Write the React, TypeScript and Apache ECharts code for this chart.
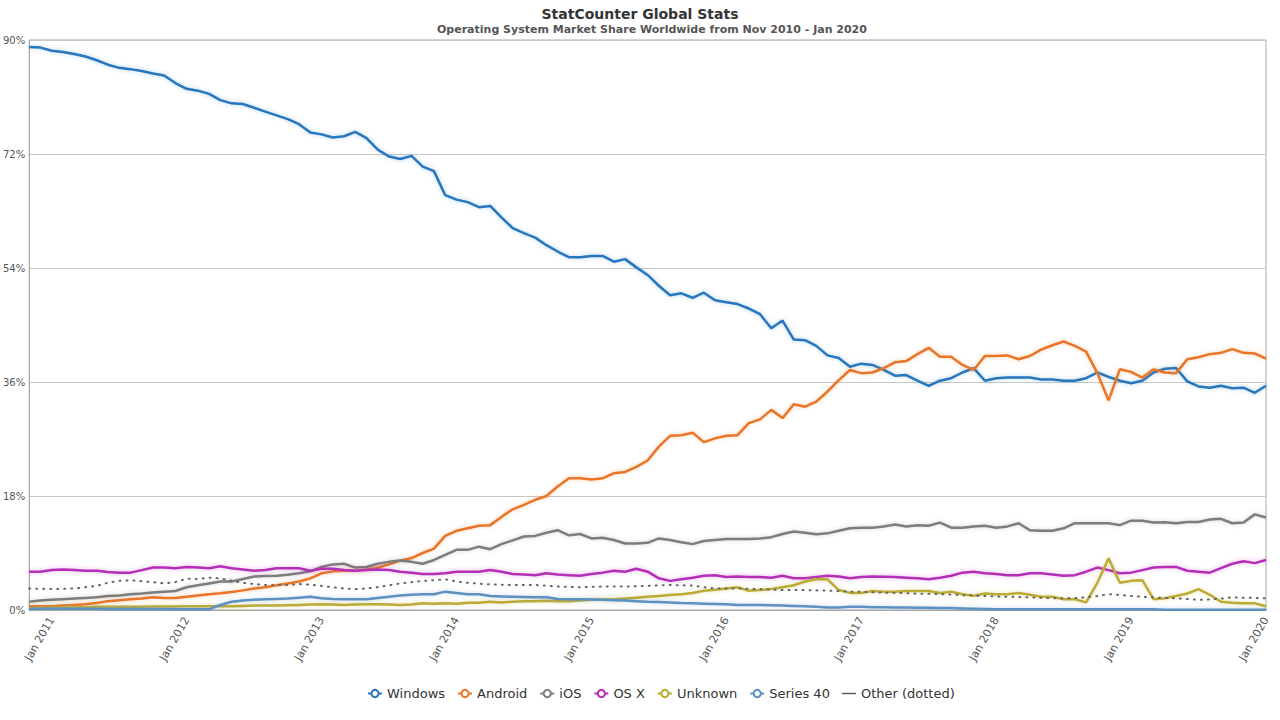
import React, { useEffect, useRef } from "react";
import * as echarts from "echarts";

const monthNames = ["Jan", "Feb", "Mar", "Apr", "May", "Jun", "Jul", "Aug", "Sep", "Oct", "Nov", "Dec"];
const startYear = 2010;
const startMonth = 10; // Nov
const monthCount = 111; // Nov 2010 .. Jan 2020

const categories: string[] = [];
for (let i = 0; i < monthCount; i++) {
  const m = (startMonth + i) % 12;
  const y = startYear + Math.floor((startMonth + i) / 12);
  categories.push(monthNames[m] + " " + y);
}

const yTicks = [0, 18, 36, 54, 72, 90];

const windows = [
  88.9, 88.8, 88.3, 88.1, 87.8, 87.4, 86.8, 86.1, 85.6, 85.4,
  85.1, 84.7, 84.4, 83.2, 82.3, 82.0, 81.5, 80.5, 80.0, 79.9,
  79.3, 78.7, 78.1, 77.5, 76.7, 75.4, 75.1, 74.6, 74.8, 75.5,
  74.5, 72.7, 71.6, 71.2, 71.7, 70.0, 69.3, 65.5, 64.8, 64.4,
  63.6, 63.8, 62.0, 60.3, 59.5, 58.8, 57.6, 56.6, 55.7, 55.7,
  55.9, 55.9, 55.0, 55.4, 54.1, 52.9, 51.2, 49.7, 50.0, 49.3,
  50.1, 48.9, 48.6, 48.3, 47.6, 46.7, 44.5, 45.7, 42.7, 42.6,
  41.7, 40.2, 39.8, 38.4, 38.9, 38.7, 37.9, 37.0, 37.1, 36.2,
  35.4, 36.2, 36.6, 37.5, 38.2, 36.2, 36.6, 36.7, 36.7, 36.7,
  36.4, 36.4, 36.2, 36.2, 36.6, 37.5, 36.8, 36.2, 35.8, 36.2,
  37.5, 38.1, 38.2, 36.1, 35.3, 35.1, 35.4, 35.0, 35.1, 34.3,
  35.4,
];

const android = [
  0.6, 0.6, 0.6, 0.7, 0.8, 0.9, 1.1, 1.4, 1.55, 1.7,
  1.8, 2.0, 1.9, 1.9, 2.1, 2.3, 2.5, 2.65, 2.85, 3.1,
  3.4, 3.6, 3.9, 4.2, 4.5, 5.0, 5.8, 6.1, 6.2, 6.2,
  6.4, 6.7, 7.2, 7.8, 8.2, 9.0, 9.7, 11.7, 12.5, 12.9,
  13.3, 13.4, 14.7, 15.9, 16.6, 17.4, 18.0, 19.5, 20.8, 20.8,
  20.6, 20.8, 21.6, 21.8, 22.6, 23.6, 25.8, 27.5, 27.6, 28.0,
  26.5, 27.1, 27.5, 27.6, 29.5, 30.1, 31.6, 30.3, 32.5, 32.1,
  32.9, 34.5, 36.3, 37.9, 37.4, 37.5, 38.2, 39.1, 39.3, 40.4,
  41.4, 40.0, 40.0, 38.7, 37.9, 40.1, 40.1, 40.2, 39.6, 40.1,
  41.1, 41.8, 42.4, 41.7, 40.8, 37.4, 33.1, 38.0, 37.6, 36.7,
  38.0, 37.5, 37.4, 39.6, 39.9, 40.4, 40.6, 41.2, 40.6, 40.5,
  39.7,
];

const ios = [
  1.3, 1.5, 1.6, 1.7, 1.8, 1.9, 2.0, 2.2, 2.3, 2.5,
  2.6, 2.75, 2.9, 3.0, 3.6, 3.9, 4.2, 4.5, 4.5, 4.9,
  5.3, 5.35, 5.4, 5.55, 5.8, 6.1, 6.8, 7.2, 7.3, 6.7,
  6.8, 7.3, 7.6, 7.8, 7.6, 7.3, 7.9, 8.7, 9.5, 9.5,
  10.0, 9.6, 10.4, 11.0, 11.6, 11.7, 12.2, 12.6, 11.8, 12.0,
  11.3, 11.4, 11.05, 10.5, 10.5, 10.6, 11.3, 11.05, 10.7, 10.4,
  10.9, 11.05, 11.2, 11.2, 11.2, 11.3, 11.5, 12.0, 12.4, 12.2,
  11.95, 12.1, 12.5, 12.9, 13.0, 13.0, 13.2, 13.5, 13.2, 13.4,
  13.3, 13.8, 13.0, 13.0, 13.2, 13.3, 13.0, 13.2, 13.7, 12.6,
  12.5, 12.5, 12.9, 13.7, 13.7, 13.7, 13.7, 13.4, 14.1, 14.1,
  13.8, 13.85, 13.7, 13.9, 13.9, 14.3, 14.4, 13.7, 13.8, 15.1,
  14.6,
];

const osx = [
  6.05, 6.05, 6.3, 6.4, 6.3, 6.2, 6.2, 6.0, 5.9, 5.9,
  6.3, 6.7, 6.7, 6.6, 6.8, 6.7, 6.6, 6.9, 6.6, 6.4,
  6.2, 6.3, 6.6, 6.6, 6.6, 6.2, 6.5, 6.5, 6.3, 6.2,
  6.3, 6.4, 6.3, 6.05, 5.9, 5.7, 5.7, 5.8, 6.05, 6.05,
  6.05, 6.3, 6.05, 5.7, 5.6, 5.5, 5.8, 5.6, 5.5, 5.4,
  5.7, 5.9, 6.2, 6.05, 6.5, 6.05, 5.0, 4.6, 4.85, 5.1,
  5.4, 5.5, 5.2, 5.3, 5.2, 5.2, 5.1, 5.4, 5.0, 5.0,
  5.2, 5.4, 5.3, 5.0, 5.2, 5.3, 5.25, 5.2, 5.1, 5.0,
  4.85, 5.1, 5.4, 5.9, 6.05, 5.8, 5.7, 5.5, 5.5, 5.8,
  5.8, 5.6, 5.4, 5.5, 6.05, 6.7, 6.3, 5.8, 5.9, 6.3,
  6.7, 6.8, 6.8, 6.2, 6.05, 5.9, 6.6, 7.3, 7.7, 7.4,
  7.9,
];

const unknown = [
  0.3, 0.3, 0.35, 0.4, 0.4, 0.45, 0.5, 0.5, 0.5, 0.5,
  0.5, 0.55, 0.55, 0.55, 0.6, 0.6, 0.6, 0.6, 0.6, 0.65,
  0.7, 0.7, 0.7, 0.75, 0.8, 0.85, 0.9, 0.85, 0.8, 0.85,
  0.9, 0.9, 0.85, 0.8, 0.85, 1.05, 1.0, 1.05, 1.0, 1.15,
  1.15, 1.3, 1.2, 1.3, 1.4, 1.4, 1.45, 1.4, 1.4, 1.5,
  1.6, 1.65, 1.7, 1.8, 1.95, 2.1, 2.2, 2.35, 2.5, 2.7,
  3.05, 3.2, 3.4, 3.6, 3.05, 3.15, 3.3, 3.6, 3.9, 4.5,
  4.85, 4.85, 3.15, 2.7, 2.7, 3.0, 2.9, 2.9, 3.0, 3.0,
  3.0, 2.7, 2.9, 2.5, 2.25, 2.6, 2.5, 2.5, 2.7, 2.4,
  2.1, 2.1, 1.7, 1.7, 1.2, 4.3, 8.15, 4.3, 4.6, 4.7,
  1.7, 1.85, 2.2, 2.6, 3.3, 2.4, 1.3, 1.15, 1.05, 1.05,
  0.6,
];

const series40 = [
  0.2, 0.2, 0.2, 0.2, 0.2, 0.2, 0.2, 0.15, 0.15, 0.15,
  0.15, 0.15, 0.15, 0.1, 0.1, 0.1, 0.1, 0.8, 1.3, 1.5,
  1.6, 1.7, 1.75, 1.8, 1.95, 2.1, 1.85, 1.75, 1.7, 1.7,
  1.7, 1.9, 2.1, 2.3, 2.4, 2.5, 2.5, 2.9, 2.7, 2.5,
  2.5, 2.2, 2.15, 2.1, 2.05, 2.0, 2.0, 1.75, 1.7, 1.7,
  1.65, 1.6, 1.55, 1.5, 1.4, 1.3, 1.25, 1.2, 1.1, 1.05,
  1.0, 0.95, 0.9, 0.8, 0.8, 0.8, 0.75, 0.7, 0.65, 0.6,
  0.5, 0.4, 0.4, 0.5, 0.5, 0.45, 0.45, 0.4, 0.4, 0.35,
  0.35, 0.3, 0.3, 0.25, 0.2, 0.15, 0.1, 0.1, 0.1, 0.1,
  0.1, 0.1, 0.1, 0.1, 0.1, 0.1, 0.1, 0.1, 0.1, 0.1,
  0.1, 0.05, 0.05, 0.05, 0.05, 0.05, 0.05, 0.05, 0.05, 0.05,
  0.05,
];

const other = [
  3.4, 3.35, 3.3, 3.35, 3.4, 3.6, 3.8, 4.3, 4.6, 4.7,
  4.55, 4.4, 4.2, 4.4, 4.95, 4.9, 5.1, 5.0, 4.6, 4.3,
  4.1, 3.95, 3.95, 3.95, 4.1, 4.0, 3.8, 3.6, 3.4, 3.3,
  3.4, 3.6, 3.9, 4.2, 4.4, 4.6, 4.7, 4.85, 4.5, 4.3,
  4.15, 4.05, 4.0, 3.95, 3.95, 3.95, 3.85, 3.7, 3.65, 3.6,
  3.65, 3.7, 3.7, 3.7, 3.75, 3.8, 3.9, 3.95, 3.9, 3.85,
  3.6, 3.4, 3.4, 3.4, 3.35, 3.3, 3.2, 3.15, 3.15, 3.15,
  3.1, 3.05, 3.0, 2.9, 2.9, 2.8, 2.75, 2.7, 2.65, 2.6,
  2.55, 2.5, 2.45, 2.35, 2.3, 2.2, 2.15, 2.1, 2.05, 2.0,
  1.95, 1.85, 1.85, 1.9, 2.0, 2.2, 2.5, 2.4, 2.2, 2.1,
  2.0, 1.9, 1.85, 1.75, 1.6, 1.65, 1.8, 2.0, 1.95, 1.9,
  1.85,
];

const seriesNames = ["Windows", "Android", "iOS", "OS X", "Unknown", "Series 40", "Other (dotted)"];
const seriesColors = ["#2577bd", "#ea7428", "#7d7d7d", "#b52db8", "#bcab35", "#5d91c2", "#666666"];
const seriesGlow = [
  "rgba(37,119,189,0.35)",
  "rgba(234,116,40,0.35)",
  "rgba(125,125,125,0.35)",
  "rgba(181,45,184,0.35)",
  "rgba(188,171,53,0.35)",
  "rgba(93,145,194,0.35)",
  "rgba(0,0,0,0)",
];
const seriesData = [windows, android, ios, osx, unknown, series40, other];

const FONT = "DejaVu Sans";

export default function App() {
  const ref = useRef<HTMLDivElement>(null);

  useEffect(() => {
    if (!ref.current) return;
    const chart = echarts.init(ref.current, null, { renderer: "svg" });

    const series = seriesNames.map((name, i) => {
      const dotted = i === seriesNames.length - 1;
      return {
        name,
        type: "line",
        data: seriesData[i],
        symbol: dotted ? "none" : "emptyCircle",
        showSymbol: false,
        smooth: false,
        color: seriesColors[i],
        lineStyle: dotted
          ? { width: 2, type: [1, 6], cap: "round", color: seriesColors[i] }
          : {
              width: 2.5,
              color: seriesColors[i],
              shadowColor: seriesGlow[i],
              shadowBlur: 4,
            },
        itemStyle: { color: seriesColors[i] },
        emphasis: { disabled: true },
        z: 2,
      };
    });

    chart.setOption({
      animation: false,
      textStyle: { fontFamily: FONT },
      title: [
        {
          text: "StatCounter Global Stats",
          left: "center",
          top: 2,
          textStyle: { fontFamily: FONT, fontSize: 14, fontWeight: "bold", color: "#333333" },
        },
        {
          text: "Operating System Market Share Worldwide from Nov 2010 - Jan 2020",
          left: 432,
          top: 19,
          textStyle: { fontFamily: FONT, fontSize: 11, fontWeight: "bold", color: "#555555" },
        },
      ],
      grid: {
        left: 28,
        right: 14,
        top: 40,
        bottom: 110,
        show: true,
        borderColor: "#a8a8a8",
        borderWidth: 1,
        containLabel: false,
      },
      legend: {
        top: 682,
        left: 362,
        itemWidth: 14,
        itemHeight: 9,
        itemGap: 12,
        textStyle: { fontFamily: FONT, fontSize: 13, color: "#333333" },
        data: seriesNames.map((n, i) =>
          i === seriesNames.length - 1
            ? {
                name: n,
                icon: "path://M0 4 L16 4 L16 5.6 L0 5.6 Z",
                itemStyle: { color: "#555555" },
              }
            : { name: n }
        ),
        selectedMode: false,
      },
      xAxis: {
        type: "category",
        data: categories,
        boundaryGap: false,
        axisLine: { show: true, lineStyle: { color: "#a8a8a8" } },
        axisTick: { show: false },
        splitLine: { show: false },
        axisLabel: {
          rotate: 60,
          interval: (index: number, value: string) => value.startsWith("Jan"),
          fontFamily: FONT,
          fontSize: 11,
          color: "#555555",
          margin: 8,
        },
      },
      yAxis: {
        type: "value",
        min: yTicks[0],
        max: yTicks[yTicks.length - 1],
        interval: yTicks[1] - yTicks[0],
        axisLine: { show: true, lineStyle: { color: "#a8a8a8" } },
        axisTick: { show: false },
        splitLine: { show: true, lineStyle: { color: "#c8c8c8", width: 1 } },
        axisLabel: {
          formatter: "{value}%",
          fontFamily: FONT,
          fontSize: 10,
          color: "#555555",
          margin: 4,
        },
      },
      series,
    });

    return () => chart.dispose();
  }, []);

  return (
    <div
      ref={ref}
      style={{ position: "fixed", left: 0, top: 0, width: 1280, height: 720, background: "#ffffff" }}
    />
  );
}
